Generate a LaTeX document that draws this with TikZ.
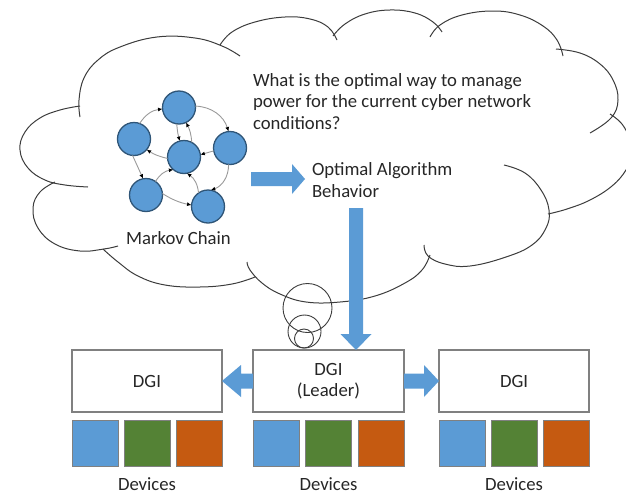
\documentclass[tikz,border=0pt]{standalone}
\usepackage{fontspec}
\setmainfont{Carlito}
\usetikzlibrary{arrows.meta,calc}
\definecolor{fillblue}{HTML}{5B9BD5}
\definecolor{ringblue}{HTML}{2F5577}
\definecolor{devgreen}{HTML}{548235}
\definecolor{devorange}{HTML}{C55A11}
\definecolor{boxgray}{HTML}{808080}
\definecolor{inkgray}{HTML}{3C3C3C}
\definecolor{edgegray}{HTML}{9A9A9A}
\definecolor{textink}{HTML}{262626}
\begin{document}
\begin{tikzpicture}[x=1pt,y=-1pt,
  every node/.style={font=\fontsize{18.7}{21.3}\selectfont, text=textink, inner sep=0pt, outer sep=0pt},
  txt/.style={anchor=base west},
  ctxt/.style={anchor=base},
  state/.style={circle, fill=fillblue, draw=ringblue, line width=1.3pt, minimum size=33pt},
  trans/.style={draw=edgegray, line width=0.9pt, -{Latex[black,length=4.5pt,width=4pt]}},
  dgibox/.style={draw=boxgray, line width=1.3pt, fill=white, minimum width=150pt, minimum height=62pt, align=center},
  dev/.style={draw=boxgray, line width=0.6pt, minimum size=46pt},
  cloudline/.style={draw=inkgray, line width=1pt},
  bubble/.style={draw=inkgray, line width=0.9pt, circle}
]
\useasboundingbox (0,0) rectangle (626,498);

% ---- thought cloud, one arc per lobe ----
\draw[cloudline] plot[smooth,tension=0.7] coordinates {(88,187) (65,185) (45,180) (28,168) (20,150) (25,132) (40,118) (60,110) (80,106)};
\draw[cloudline] plot[smooth,tension=0.7] coordinates {(80,117) (79,100) (84,78) (98,60) (120,47) (157,37) (195,38) (222,46) (240,56)};
\draw[cloudline] plot[smooth,tension=0.7] coordinates {(220,45) (232,32) (255,22) (285,17) (310,19) (328,27) (337,40)};
\draw[cloudline] plot[smooth,tension=0.7] coordinates {(333,36) (345,24) (365,14) (390,10) (415,13) (433,22) (442,32)};
\draw[cloudline] plot[smooth,tension=0.7] coordinates {(430,37) (440,25) (462,15) (493,11) (520,15) (543,26) (557,40) (563,56)};
\draw[cloudline] plot[smooth,tension=0.7] coordinates {(556,49) (580,53) (600,64) (613,80) (618,100) (611,118) (590,133)};
\draw[cloudline] plot[smooth,tension=0.7] coordinates {(610,114) (622,124) (630,140) (632,155) (626,170) (612,186) (590,200) (567,209) (548,214)};
\draw[cloudline] plot[smooth,tension=0.7] coordinates {(504,165) (525,173) (541,190) (549,210) (546,228) (532,245) (506,257) (470,266) (445,264) (428,256) (424,245)};
\draw[cloudline] plot[smooth,tension=0.7] coordinates {(430,255) (422,270) (405,283) (375,296) (340,302) (306,302) (280,294) (262,283) (250,270) (247,262)};
\draw[cloudline] plot[smooth,tension=0.7] coordinates {(255,277) (232,284) (200,287) (165,285) (138,276) (118,262) (103,249)};
\draw[cloudline] plot[smooth,tension=0.7] coordinates {(118,246) (104,249) (80,251) (55,244) (38,228) (33,208) (40,192) (55,182)};

% ---- thought bubbles ----
\node[bubble, minimum size=49pt] (b1) at (307.5,308) {};
\node[bubble, minimum size=33pt] (b2) at (304.5,331.5) {};
\node[bubble, minimum size=19pt] (b3) at (304,338.5) {};

% ---- Markov chain ----
\node[state] (A) at (179,107.5) {};
\node[state] (B) at (134,139) {};
\node[state] (C) at (184,157) {};
\node[state] (D) at (230,148) {};
\node[state] (E) at (146,195) {};
\node[state] (F) at (208,206.5) {};
\draw[trans] (B.70) to[bend left=25] (A.185);
\draw[trans] (A.5) to[bend left=35] (D.95);
\draw[trans] (A.262) to[bend right=5] (C.105);
\draw[trans] (C.62) to[bend right=12] (A.295);
\draw[trans] (D.190) -- (C.8);
\draw[trans] (C.185) to[bend left=10] (B.320);
\draw[trans] (B.265) -- (E.100);
\draw[trans] (E.55) to[bend left=25] (C.230);
\draw[trans] (E.5) to[bend right=10] (F.175);
\draw[trans] (F.125) to[bend right=25] (C.280);
\draw[trans] (D.265) to[bend left=35] (F.80);
\node[ctxt] (mc) at (178.5,244) {Markov Chain};

% ---- texts inside the cloud ----
\node[txt] (q1) at (253,86) {What is the optimal way to manage};
\node[txt] (q2) at (253,107.5) {power for the current cyber network};
\node[txt] (q3) at (253,129) {conditions?};
\node[txt] (oa1) at (312,175.5) {Optimal Algorithm};
\node[txt] (oa2) at (312,197) {Behavior};

% ---- DGI boxes ----
\node[dgibox] (dgiL) at (147,381) {DGI};
\node[dgibox, minimum width=151pt] (lead) at (328.5,381) {DGI\\(Leader)};
\node[dgibox] (dgiR) at (514,381) {DGI};

% ---- device squares ----
\foreach \g/\cx in {L/147, M/328.5, R/514}{
  \node[dev, fill=fillblue]  (dev\g1) at (\cx-52,443) {};
  \node[dev, fill=devgreen]  (dev\g2) at (\cx,443) {};
  \node[dev, fill=devorange] (dev\g3) at (\cx+52.5,443) {};
}
\node[ctxt] (devL) at (147,490) {Devices};
\node[ctxt] (devM) at (328.5,490) {Devices};
\node[ctxt] (devR) at (514,490) {Devices};

% ---- block arrows ----
\coordinate (mkT) at (251,179);
\coordinate (mkH) at (305,179);
\fill[fillblue] ($(mkT)+(0,-7)$) -- ($(mkH)+(-13,-7)$) -- ($(mkH)+(-13,-15)$) -- (mkH)
  -- ($(mkH)+(-13,15)$) -- ($(mkH)+(-13,7)$) -- ($(mkT)+(0,7)$) -- cycle;

\coordinate (vT) at (356,208);
\coordinate (vH) at (vT |- lead.north);
\fill[fillblue] ($(vT)+(-7,0)$) -- ($(vH)+(-7,-16)$) -- ($(vH)+(-15.5,-16)$) -- (vH)
  -- ($(vH)+(15.5,-16)$) -- ($(vH)+(7,-16)$) -- ($(vT)+(7,0)$) -- cycle;

\fill[fillblue] ($(lead.west)+(0,-7.5)$) -- ($(dgiL.east)+(19,-7.5)$) -- ($(dgiL.east)+(19,-16)$) -- (dgiL.east)
  -- ($(dgiL.east)+(19,16)$) -- ($(dgiL.east)+(19,7.5)$) -- ($(lead.west)+(0,7.5)$) -- cycle;

\fill[fillblue] ($(lead.east)+(0,-7.5)$) -- ($(dgiR.west)+(-15,-7.5)$) -- ($(dgiR.west)+(-15,-16)$) -- (dgiR.west)
  -- ($(dgiR.west)+(-15,16)$) -- ($(dgiR.west)+(-15,7.5)$) -- ($(lead.east)+(0,7.5)$) -- cycle;
\end{tikzpicture}
\end{document}
